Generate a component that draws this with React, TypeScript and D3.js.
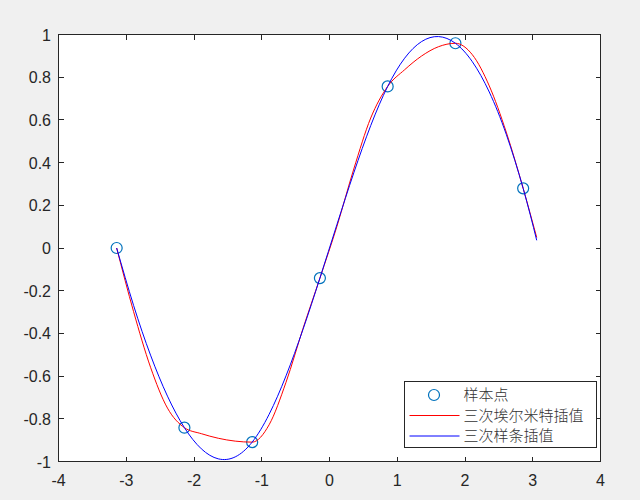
import React from "react";
import * as d3 from "d3";

const sampleX = [-3.1416, -2.1416, -1.1416, -0.1416, 0.8584, 1.8584, 2.8584];
const sampleY = [0, -0.8415, -0.9093, -0.1411, 0.7568, 0.9589, 0.2794];

const curveX = [
  -3.1416, -2.8916, -2.6416, -2.3916, -2.1416, -1.8916, -1.6416, -1.3916, -1.1416,
  -0.8916, -0.6416, -0.3916, -0.1416, 0.1084, 0.3584, 0.6084, 0.8584, 1.1084, 1.3584,
  1.6084, 1.8584, 2.1084, 2.3584, 2.6084, 2.8584, 3.0584,
];
const hermiteY = [
  0, -0.2983, -0.5586, -0.7499, -0.8415, -0.8697, -0.8911, -0.9046, -0.9093, -0.8281,
  -0.6287, -0.3776, -0.1411, 0.1002, 0.3701, 0.6089, 0.7568, 0.8348, 0.8991, 0.9428,
  0.9589, 0.9053, 0.7592, 0.5431, 0.2794, 0.0492,
];
const splineY = [
  0, -0.2693, -0.5019, -0.6939, -0.8415, -0.9407, -0.9876, -0.9784, -0.9093, -0.7792,
  -0.5987, -0.3815, -0.1411, 0.1086, 0.352, 0.5734, 0.7568, 0.8889, 0.9668, 0.9903,
  0.9589, 0.8725, 0.7306, 0.533, 0.2794, 0.036,
];

const xTicks = [-4, -3, -2, -1, 0, 1, 2, 3, 4];
const yTicks = [-1, -0.8, -0.6, -0.4, -0.2, 0, 0.2, 0.4, 0.6, 0.8, 1];
const legendLabels = ["样本点", "三次埃尔米特插值", "三次样条插值"];

const W = 640;
const H = 500;
const L = 58.5;
const R = 600.5;
const T = 34.5;
const B = 461.5;
const AX = "#262626";
const TICK_FONT = "'Liberation Sans', Arial, Helvetica, sans-serif";

export default function App() {
  const x = d3.scaleLinear().domain([-4, 4]).range([L, R]);
  const y = d3.scaleLinear().domain([-1, 1]).range([B, T]);

  const pts = (ys: number[]) => curveX.map((v, i) => [v, ys[i]] as [number, number]);
  const redLine = d3
    .line<[number, number]>()
    .x((d) => x(d[0]))
    .y((d) => y(d[1]))
    .curve(d3.curveMonotoneX);
  const blueLine = d3
    .line<[number, number]>()
    .x((d) => x(d[0]))
    .y((d) => y(d[1]))
    .curve(d3.curveNatural);

  const fmt = (v: number) => String(+v.toFixed(1));
  const tl = 5;

  const lgL = 404;
  const lgT = 381.5;
  const lgW = 192.5;
  const lgH = 66;
  const rowY = [395, 415.5, 436];

  return (
    <svg
      width={W}
      height={H}
      style={{ position: "absolute", left: 0, top: 0, background: "#f0f0f0" }}
    >
      <rect x={0} y={0} width={W} height={H} fill="#f0f0f0" />
      <rect x={L} y={T} width={R - L} height={B - T} fill="#ffffff" />

      {/* ticks */}
      <g stroke={AX} strokeWidth={1} shapeRendering="crispEdges">
        {xTicks.map((t) => (
          <g key={"xt" + t}>
            <line x1={x(t)} x2={x(t)} y1={B} y2={B - tl} />
            <line x1={x(t)} x2={x(t)} y1={T} y2={T + tl} />
          </g>
        ))}
        {yTicks.map((t) => (
          <g key={"yt" + t}>
            <line x1={L} x2={L + tl} y1={y(t)} y2={y(t)} />
            <line x1={R} x2={R - tl} y1={y(t)} y2={y(t)} />
          </g>
        ))}
      </g>

      {/* tick labels */}
      <g fill={AX} fontFamily={TICK_FONT} fontSize={16}>
        {xTicks.map((t) => (
          <text key={"xl" + t} x={x(t)} y={486.3} textAnchor="middle">
            {fmt(t)}
          </text>
        ))}
        {yTicks.map((t) => (
          <text key={"yl" + t} x={51} y={y(t) + 6} textAnchor="end">
            {fmt(t)}
          </text>
        ))}
      </g>

      {/* data */}
      <g fill="none" strokeWidth={1.2} stroke="#0072BD">
        {sampleX.map((v, i) => (
          <circle key={"c" + i} cx={x(v)} cy={y(sampleY[i])} r={5.5} />
        ))}
      </g>
      <path d={redLine(pts(hermiteY)) || ""} fill="none" stroke="#ff0000" strokeWidth={1} />
      <path d={blueLine(pts(splineY)) || ""} fill="none" stroke="#0000ff" strokeWidth={1} />

      {/* box */}
      <rect
        x={L}
        y={T}
        width={R - L}
        height={B - T}
        fill="none"
        stroke={AX}
        strokeWidth={1}
        shapeRendering="crispEdges"
      />

      {/* legend */}
      <rect
        x={lgL}
        y={lgT}
        width={lgW}
        height={lgH}
        fill="#ffffff"
        stroke={AX}
        strokeWidth={1}
        shapeRendering="crispEdges"
      />
      <circle cx={434} cy={rowY[0]} r={5.5} fill="none" stroke="#0072BD" strokeWidth={1.2} />
      <line x1={409.5} x2={459.5} y1={rowY[1]} y2={rowY[1]} stroke="#ff0000" strokeWidth={1} />
      <line x1={409.5} x2={459.5} y1={rowY[2]} y2={rowY[2]} stroke="#0000ff" strokeWidth={1} />
      <g fill="#333333" fontFamily="'Noto Sans CJK SC', sans-serif" fontSize={15} fontWeight={300}>
        {legendLabels.map((s, i) => (
          <text key={s} x={463.5} y={rowY[i] + 5.3}>
            {s}
          </text>
        ))}
      </g>
    </svg>
  );
}
